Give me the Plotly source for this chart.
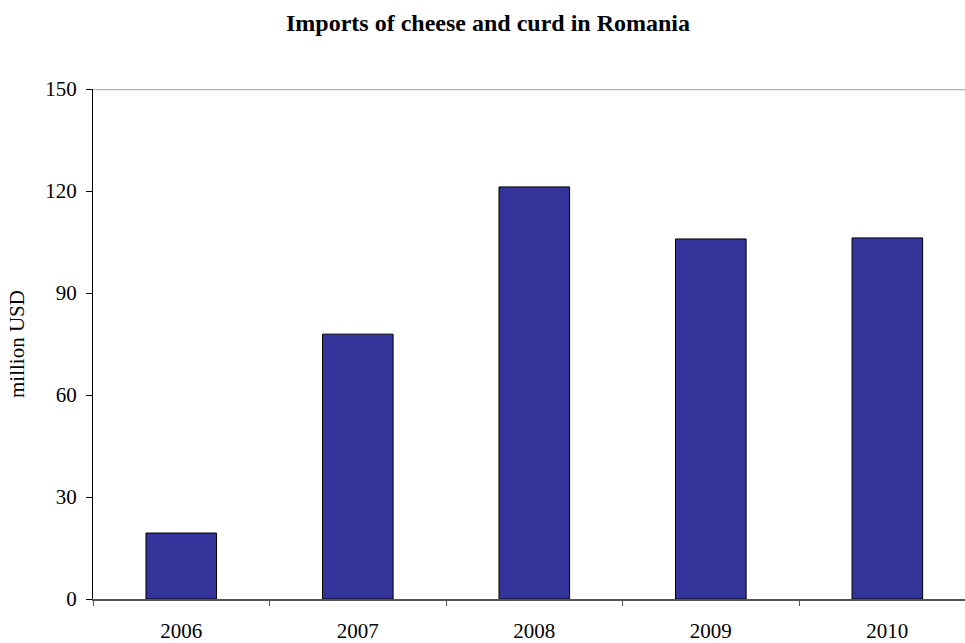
import plotly.graph_objects as go

years = ["2006", "2007", "2008", "2009", "2010"]
imports_musd = [19.4, 77.9, 121.2, 105.9, 106.2]
y_ticks = [0, 30, 60, 90, 120, 150]

serif = "Liberation Serif, Times New Roman, serif"

fig = go.Figure(
    go.Bar(
        x=years,
        y=imports_musd,
        width=0.4,
        marker=dict(color="#333399", line=dict(color="#000000", width=1)),
    )
)

# thin grey line along the top of the value scale
fig.add_shape(
    type="line", xref="paper", yref="y", x0=0, x1=1, y0=150, y1=150,
    line=dict(color="#b3b3b3", width=2.5), layer="below",
)

fig.update_layout(
    width=965,
    height=643,
    margin=dict(l=93, r=0, t=89, b=42),
    paper_bgcolor="white",
    plot_bgcolor="white",
    showlegend=False,
    title=dict(
        text="<b>Imports of cheese and curd in Romania</b>",
        x=488 / 965, xanchor="center", y=1 - 23 / 643, yanchor="middle",
        font=dict(family=serif, size=24, color="#000000"),
    ),
    font=dict(family=serif, color="#000000"),
)

fig.update_xaxes(
    type="category",
    range=[-0.5, 4.44],
    showline=True, linecolor="#555555", linewidth=2,
    ticks="outside", tickson="boundaries", ticklen=5, tickcolor="#555555", tickwidth=1,
    ticklabelstandoff=12,
    tickfont=dict(family=serif, size=21, color="#000000"),
    showgrid=False, zeroline=False,
)

fig.update_yaxes(
    range=[0, 150],
    tickvals=y_ticks,
    showline=True, linecolor="#000000", linewidth=1,
    ticks="outside", ticklen=6, tickcolor="#000000", tickwidth=1,
    ticklabelstandoff=5,
    tickfont=dict(family=serif, size=21, color="#000000"),
    showgrid=False, zeroline=False,
    title=dict(text="million USD", font=dict(family=serif, size=21, color="#000000"), standoff=14),
)

fig.write_html("out.html")
